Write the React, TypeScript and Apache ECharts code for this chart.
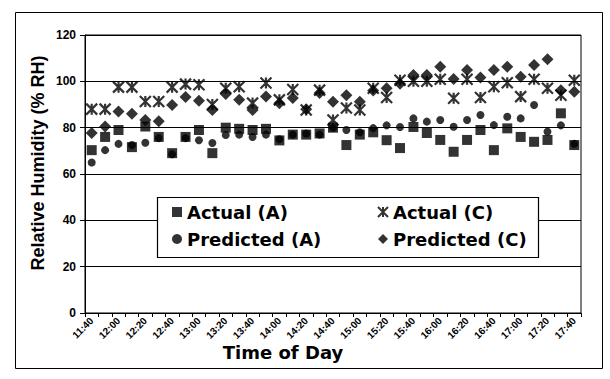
import React, { useEffect, useRef } from "react";
import * as echarts from "echarts";

// Time of day, one reading every ten minutes
const times = [
  "11:40", "11:50",
  "12:00", "12:10", "12:20", "12:30", "12:40", "12:50",
  "13:00", "13:10", "13:20", "13:30", "13:40", "13:50",
  "14:00", "14:10", "14:20", "14:30", "14:40", "14:50",
  "15:00", "15:10", "15:20", "15:30", "15:40", "15:50",
  "16:00", "16:10", "16:20", "16:30", "16:40", "16:50",
  "17:00", "17:10", "17:20", "17:30", "17:40",
];

// Relative humidity (% RH)
const actualA = [
  70.3, 76, 79, 71.6, 80.5, 76, 69, 76, 79, 69,
  80, 79.5, 79, 79.5, 74.5, 77, 77, 77.5, 80, 72.5,
  77, 78, 74.6, 71.2, 80.3, 77.7, 74.7, 69.6, 74.7, 79,
  70.3, 79.7, 76, 73.9, 74.7, 86.2, 72.5,
];
const actualC = [
  88, 88, 97.5, 97.5, 91.3, 91.3, 97.5, 98.8, 98.5, 90,
  97, 97.7, 90.6, 99.3, 92, 96.5, 87.6, 96.2, 83.3, 88.5,
  87.6, 97, 93, 100.5, 100, 100, 100.9, 92.7, 100.9, 93,
  97.7, 99.4, 93.4, 100.9, 97, 94, 100.5,
];
const predictedA = [
  65, 70.3, 73, 72.5, 73.5, 75.5, 68.5, 75.5, 74.6, 73.4,
  76.8, 77, 76, 77, 75, 77, 77.5, 77, 80, 79,
  78, 79.8, 81, 80.3, 84, 82.6, 83.3, 80.4, 83.3, 85.5,
  81.1, 84.7, 84, 89.8, 78.3, 81, 73,
];
const predictedC = [
  77.7, 80.5, 87, 86, 83.3, 82.8, 89.8, 93.2, 91.6, 87.6,
  94.5, 92, 87.6, 93.4, 90.5, 92.8, 88, 95, 91.2, 94,
  91.2, 96, 97, 99, 102.7, 102.7, 106.3, 101, 104.9, 101.7,
  104.9, 106.3, 102, 107, 109.5, 96.2, 95.5,
];

const yTicks = [0, 20, 40, 60, 80, 100, 120];

const FONT = "'Liberation Sans', Arial, sans-serif";
const LEGEND_FONT = "'DejaVu Sans', sans-serif";
const STAR = "path://M0 0L10 10M10 0L0 10M5 0L5 10";

export default function App() {
  const ref = useRef<HTMLDivElement>(null);

  useEffect(() => {
    if (!ref.current) return;
    const chart = echarts.init(ref.current, undefined, { renderer: "svg" });

    const scatter = (name: string, data: number[], symbol: string, size: number, stroke = false) => ({
      name,
      type: "scatter",
      data,
      symbol,
      symbolSize: size,
      itemStyle: stroke
        ? { color: "transparent", borderColor: "#000", borderWidth: 2.2 }
        : { color: "#000" },
      z: 3,
    });

    const legendText = { color: "#000", fontFamily: LEGEND_FONT, fontWeight: "bold", fontSize: 18 };

    chart.setOption({
      animation: false,
      backgroundColor: "#fff",
      grid: {
        left: 85,
        right: 29,
        top: 35,
        bottom: 66,
        show: true,
        borderColor: "#000",
        borderWidth: 1,
        backgroundColor: "transparent",
      },
      xAxis: {
        type: "category",
        data: times,
        boundaryGap: true,
        axisLine: { show: true, lineStyle: { color: "#000", width: 1 } },
        axisTick: { show: true, interval: 0, length: 4, lineStyle: { color: "#000" } },
        axisLabel: {
          interval: 1,
          rotate: 45,
          color: "#000",
          fontFamily: FONT,
          fontWeight: "bold",
          fontSize: 10,
          margin: 6,
        },
        splitLine: { show: false },
      },
      yAxis: {
        type: "value",
        min: yTicks[0],
        max: yTicks[yTicks.length - 1],
        interval: 20,
        axisLine: { show: true, lineStyle: { color: "#000", width: 1 } },
        axisTick: { show: true, length: 5, lineStyle: { color: "#000" } },
        axisLabel: {
          color: "#000",
          fontFamily: FONT,
          fontWeight: "bold",
          fontSize: 12,
          margin: 9,
        },
        splitLine: { show: true, lineStyle: { color: "#000", width: 1 } },
      },
      legend: [
        {
          data: ["Actual (A)", "Predicted (A)"],
          orient: "vertical",
          left: 172,
          top: 203,
          itemGap: 9,
          itemWidth: 10,
          itemHeight: 10,
          padding: 0,
          z: 10,
          textStyle: legendText,
        },
        {
          data: ["Actual (C)", "Predicted (C)"],
          orient: "vertical",
          left: 377,
          top: 203,
          itemGap: 9,
          itemWidth: 10,
          itemHeight: 10,
          padding: 0,
          z: 10,
          textStyle: legendText,
        },
      ],
      graphic: [
        {
          type: "rect",
          z: 0,
          silent: true,
          shape: { x: 15.5, y: 12.5, width: 587, height: 356 },
          style: { fill: "none", stroke: "#000", lineWidth: 1 },
        },
        {
          type: "rect",
          z: 8,
          silent: true,
          shape: { x: 157.5, y: 197.5, width: 381, height: 60 },
          style: { fill: "#fff", stroke: "#000", lineWidth: 1.2 },
        },
        {
          type: "text",
          z: 8,
          x: 38,
          y: 163,
          rotation: Math.PI / 2,
          style: {
            text: "Relative Humidity (% RH)",
            fontFamily: FONT,
            fontWeight: "bold",
            fontSize: 18,
            fill: "#000",
            textAlign: "center",
            textVerticalAlign: "middle",
            align: "center",
            verticalAlign: "middle",
          },
        },
        {
          type: "text",
          z: 8,
          x: 283,
          y: 352,
          style: {
            text: "Time of Day",
            fontFamily: LEGEND_FONT,
            fontWeight: "bold",
            fontSize: 18,
            fill: "#000",
            textAlign: "center",
            textVerticalAlign: "middle",
            align: "center",
            verticalAlign: "middle",
          },
        },
      ],
      series: [
        scatter("Actual (A)", actualA, "rect", 10),
        scatter("Actual (C)", actualC, STAR, 11, true),
        scatter("Predicted (A)", predictedA, "circle", 8),
        scatter("Predicted (C)", predictedC, "diamond", 12),
      ],
    });

    return () => chart.dispose();
  }, []);

  return (
    <div
      style={{ position: "fixed", left: 0, top: 0, width: 610, height: 379, background: "#fff" }}
    >
      <div ref={ref} style={{ width: 610, height: 379 }} />
    </div>
  );
}
